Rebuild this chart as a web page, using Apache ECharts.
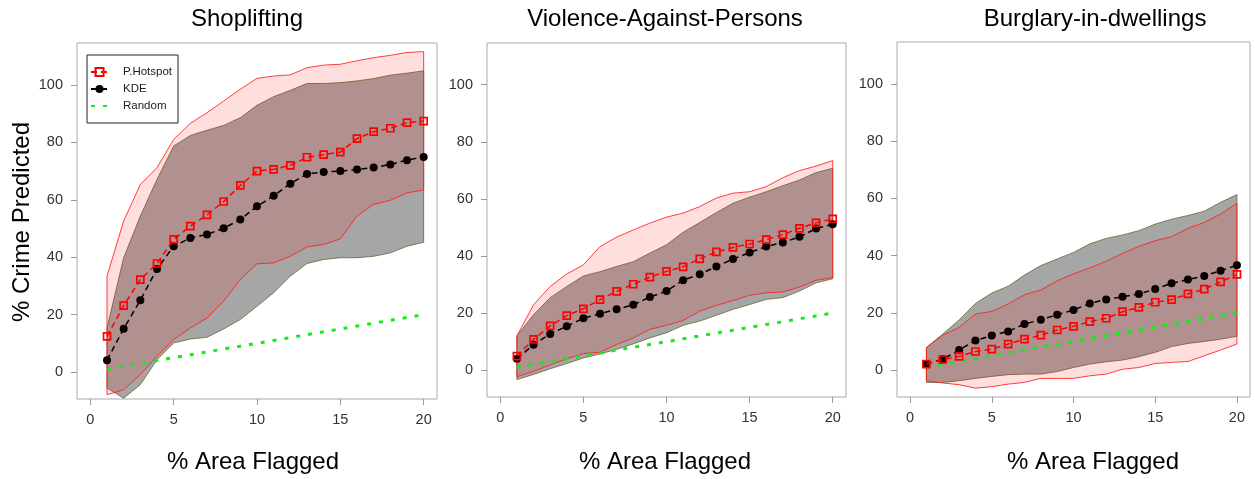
<!DOCTYPE html>
<html>
<head>
<meta charset="utf-8">
<script src="https://cdn.jsdelivr.net/npm/echarts@6/dist/echarts.min.js"></script>
<style>
html,body{margin:0;padding:0;background:#fff;}
#chart{width:1255px;height:479px;}
</style>
</head>
<body>
<div id="chart"></div>
<script>
// ---------------- data ----------------
const areaFlagged = [1,2,3,4,5,6,7,8,9,10,11,12,13,14,15,16,17,18,19,20];
const xTicks = [0,5,10,15,20];
const yTicks = [0,20,40,60,80,100];
const panelTitles = ['Shoplifting','Violence-Against-Persons','Burglary-in-dwellings'];
const seriesNames = ['P.Hotspot','KDE','Random'];

// Shoplifting
const shopHotspot = [12.4,23.1,32.2,37.8,46.2,50.8,54.7,59.4,65.0,70.0,70.6,72.0,74.8,75.7,76.6,81.3,83.7,84.9,86.9,87.4];
const shopKDE     = [4.1,15.1,25.0,35.9,43.8,46.7,47.9,50.1,53.1,57.7,61.4,65.6,69.0,69.7,70.0,70.5,71.2,72.3,73.8,74.9];
const shopRandom  = [1,2,3,4,5,6,7,8,9,10,11,12,13,14,15,16,17,18,19,20];
const shopHotLo   = [-7.9,-6.2,-0.9,5.5,11.3,15.3,18.8,24.7,32.2,37.7,38.0,40.3,43.6,44.4,46.4,54.3,58.4,59.8,62.4,63.4];
const shopHotHi   = [33.4,52.6,65.3,71.2,81.0,86.6,90.3,94.4,98.5,102.3,103.1,103.5,106.0,106.9,107.2,108.4,109.5,110.3,111.3,111.6];
const shopKdeLo   = [-5.6,-9.1,-4.4,4.3,10.1,11.5,12.1,15.0,18.3,22.9,27.6,33.4,37.8,39.2,39.8,39.8,40.3,41.5,43.8,45.2];
const shopKdeHi   = [15.3,39.8,54.3,67.1,78.7,82.4,84.2,85.9,88.6,92.9,95.9,98.1,100.5,100.5,100.8,101.4,102.2,103.4,104.1,104.9];

// Violence-Against-Persons
const vapHotspot = [4.9,10.8,15.5,19.1,21.5,24.7,27.6,30.1,32.6,34.6,36.2,39.0,41.4,43.0,44.2,45.7,47.5,49.7,51.6,53.0];
const vapKDE     = [4.0,8.9,12.7,15.4,18.2,19.8,21.3,22.9,25.6,27.7,31.5,33.6,36.3,38.9,41.2,43.3,44.7,46.7,49.6,51.1];
const vapRandom  = [1,2,3,4,5,6,7,8,9,10,11,12,13,14,15,16,17,18,19,20];
const vapHotLo   = [-2.3,-0.4,1.8,4.0,5.8,6.3,9.0,11.3,14.3,15.7,17.4,20.7,22.7,24.4,26.2,27.1,27.4,29.1,31.5,32.4];
const vapHotHi   = [12.0,22.9,29.3,33.7,36.9,43.3,46.6,49.1,51.5,53.6,55.0,57.3,60.3,62.0,62.5,64.3,67.4,69.9,71.5,73.4];
const vapKdeLo   = [-3.3,-1.5,0.5,2.3,4.3,5.7,7.3,9.2,11.3,13.1,15.7,17.2,19.2,21.3,23.0,24.8,25.4,27.7,30.6,32.0];
const vapKdeHi   = [12.0,19.4,25.4,29.3,33.0,34.5,36.3,38.0,41.0,43.9,48.3,51.7,55.2,58.5,60.6,62.5,64.6,66.6,69.2,70.7];

// Burglary-in-dwellings
const burHotspot = [2.1,3.7,4.8,6.5,7.3,9.1,10.8,12.2,14.0,15.3,16.9,18.1,20.4,21.9,23.7,24.6,26.6,28.3,30.8,33.4];
const burKDE     = [2.1,3.8,7.0,10.3,12.1,13.5,16.1,17.6,19.3,21.0,23.3,24.7,25.6,26.6,28.3,30.3,31.6,32.9,34.7,36.6];
const burRandom  = [1,2,3,4,5,6,7,8,9,10,11,12,13,14,15,16,17,18,19,20];
const burHotLo   = [-3.7,-4.5,-5.1,-6.3,-5.8,-4.9,-4.3,-2.9,-2.9,-2.9,-2.0,-1.4,0.3,0.9,2.3,2.7,3.0,5.0,7.0,9.1];
const burHotHi   = [7.9,12.2,14.9,19.6,20.5,23.1,26.3,28.0,31.2,33.6,35.7,38.0,40.8,43.2,45.2,46.6,49.5,51.6,54.5,58.3];
const burKdeLo   = [-4.3,-4.3,-3.7,-2.9,-2.2,-1.6,-1.4,-1.4,-0.5,0.9,2.1,2.9,3.5,4.7,6.2,8.2,9.3,10.0,10.8,11.8];
const burKdeHi   = [7.9,12.6,17.5,23.3,26.9,29.3,33.2,36.5,38.8,41.1,44.1,46.0,47.2,48.7,51.0,52.7,54.0,55.5,58.6,61.3];

const panels = [
  {hot: shopHotspot, kde: shopKDE, rnd: shopRandom, hotLo: shopHotLo, hotHi: shopHotHi, kdeLo: shopKdeLo, kdeHi: shopKdeHi},
  {hot: vapHotspot,  kde: vapKDE,  rnd: vapRandom,  hotLo: vapHotLo,  hotHi: vapHotHi,  kdeLo: vapKdeLo,  kdeHi: vapKdeHi},
  {hot: burHotspot,  kde: burKDE,  rnd: burRandom,  hotLo: burHotLo,  hotHi: burHotHi,  kdeLo: burKdeLo,  kdeHi: burKdeHi}
];

// ---------------- layout ----------------
const FONT = '"Liberation Sans", Arial, sans-serif';
const grids = [
  {left: 77,  top: 43, width: 360, height: 356},
  {left: 487, top: 43, width: 359, height: 354},
  {left: 897, top: 42, width: 353, height: 355}
];
const titlePos = [[247,19],[665,19],[1095,19]];
const xNamePos = [[253,462],[665,462],[1093,462]];

const chart = echarts.init(document.getElementById('chart'), null, {renderer: 'canvas'});

function pairs(vals){ return areaFlagged.map((x,i)=>[x, vals[i]]); }

function band(g, lo, hi, fill, stroke, z){
  return {
    type: 'custom', xAxisIndex: g, yAxisIndex: g, z: z, silent: true,
    clip: true,
    data: areaFlagged.map((x,i)=>[x, lo[i], hi[i]]),
    encode: {x: 0, y: [1,2]},
    renderItem: function(params, api){
      if (params.dataIndex !== 0) return null;
      const pts = [];
      for (let i = 0; i < areaFlagged.length; i++) pts.push(api.coord([areaFlagged[i], hi[i]]));
      for (let i = areaFlagged.length - 1; i >= 0; i--) pts.push(api.coord([areaFlagged[i], lo[i]]));
      return {type: 'polygon', shape: {points: pts}, style: {fill: fill, stroke: stroke, lineWidth: 1}};
    }
  };
}

const xAxes = [], yAxes = [], series = [];
grids.forEach((gr, g) => {
  xAxes.push({
    type: 'value', gridIndex: g, min: -0.8, max: 20.8, position: 'bottom',
    axisLine: {show: false, onZero: false},
    axisTick: {show: true, inside: false, length: 6, customValues: xTicks, lineStyle: {color: '#999', width: 1}},
    axisLabel: {customValues: xTicks, margin: 13, fontSize: 14.5, color: '#333', fontFamily: FONT},
    splitLine: {show: false}
  });
  yAxes.push({
    type: 'value', gridIndex: g, min: -9.4, max: 114.6, position: 'left',
    axisLine: {show: false, onZero: false},
    axisTick: {show: true, inside: false, length: 6, customValues: yTicks, lineStyle: {color: '#999', width: 1}},
    axisLabel: {customValues: yTicks, margin: 14, fontSize: 14.5, color: '#333', fontFamily: FONT},
    splitLine: {show: false}
  });
  const p = panels[g];
  series.push(band(g, p.kdeLo, p.kdeHi, 'rgba(0,0,0,0.35)', 'rgba(95,95,40,0.75)', 1));
  series.push(band(g, p.hotLo, p.hotHi, 'rgba(255,0,0,0.13)', 'rgba(255,30,30,0.85)', 2));
  series.push({
    name: 'Random', type: 'line', xAxisIndex: g, yAxisIndex: g, z: 3,
    data: pairs(p.rnd), symbol: 'none', silent: true,
    lineStyle: {color: '#11ee11', width: 3, type: [4, 8]},
    itemStyle: {color: '#11ee11'}
  });
  series.push({
    name: 'KDE', type: 'line', xAxisIndex: g, yAxisIndex: g, z: 4,
    data: pairs(p.kde), symbol: 'circle', symbolSize: 8, silent: true,
    lineStyle: {color: '#000', width: 1.5, type: [6, 4]},
    itemStyle: {color: '#0a0000'}
  });
  series.push({
    name: 'P.Hotspot', type: 'line', xAxisIndex: g, yAxisIndex: g, z: 5,
    data: pairs(p.hot), symbol: 'rect', symbolSize: 7, silent: true,
    lineStyle: {color: '#ff0000', width: 1.5, type: [6, 4]},
    itemStyle: {color: 'rgba(0,0,0,0)', borderColor: '#ff0000', borderWidth: 1.7}
  });
});

const graphics = [];
panelTitles.forEach((t, i) => {
  graphics.push({type: 'text', x: titlePos[i][0], y: titlePos[i][1], silent: true,
    style: {text: t, fontSize: 24, fontFamily: FONT, fill: '#000', align: 'center', verticalAlign: 'middle'}});
  graphics.push({type: 'text', x: xNamePos[i][0], y: xNamePos[i][1], silent: true,
    style: {text: '% Area Flagged', fontSize: 24, fontFamily: FONT, fill: '#000', align: 'center', verticalAlign: 'middle'}});
});
graphics.push({type: 'text', x: 22, y: 222, rotation: Math.PI / 2, silent: true,
  style: {text: '% Crime Predicted', fontSize: 24, fontFamily: FONT, fill: '#000', align: 'center', verticalAlign: 'middle'}});

chart.setOption({
  animation: false,
  backgroundColor: '#fff',
  grid: grids.map(gr => Object.assign({show: true, borderColor: '#aaa', borderWidth: 1, backgroundColor: 'transparent', containLabel: false}, gr)),
  xAxis: xAxes,
  yAxis: yAxes,
  legend: {
    data: [
      {name: seriesNames[0]},
      {name: seriesNames[1]},
      {name: seriesNames[2], itemStyle: {opacity: 0}}
    ],
    orient: 'vertical', left: 87, top: 55,
    backgroundColor: '#fff', borderColor: '#222', borderWidth: 1,
    padding: [11, 6, 11, 3],
    itemWidth: 17, itemHeight: 10, itemGap: 5,
    selectedMode: false,
    textStyle: {fontSize: 11.5, color: '#222', fontFamily: FONT, padding: [0, 0, 0, 10]}
  },
  graphic: graphics,
  series: series
});
</script>
</body>
</html>
